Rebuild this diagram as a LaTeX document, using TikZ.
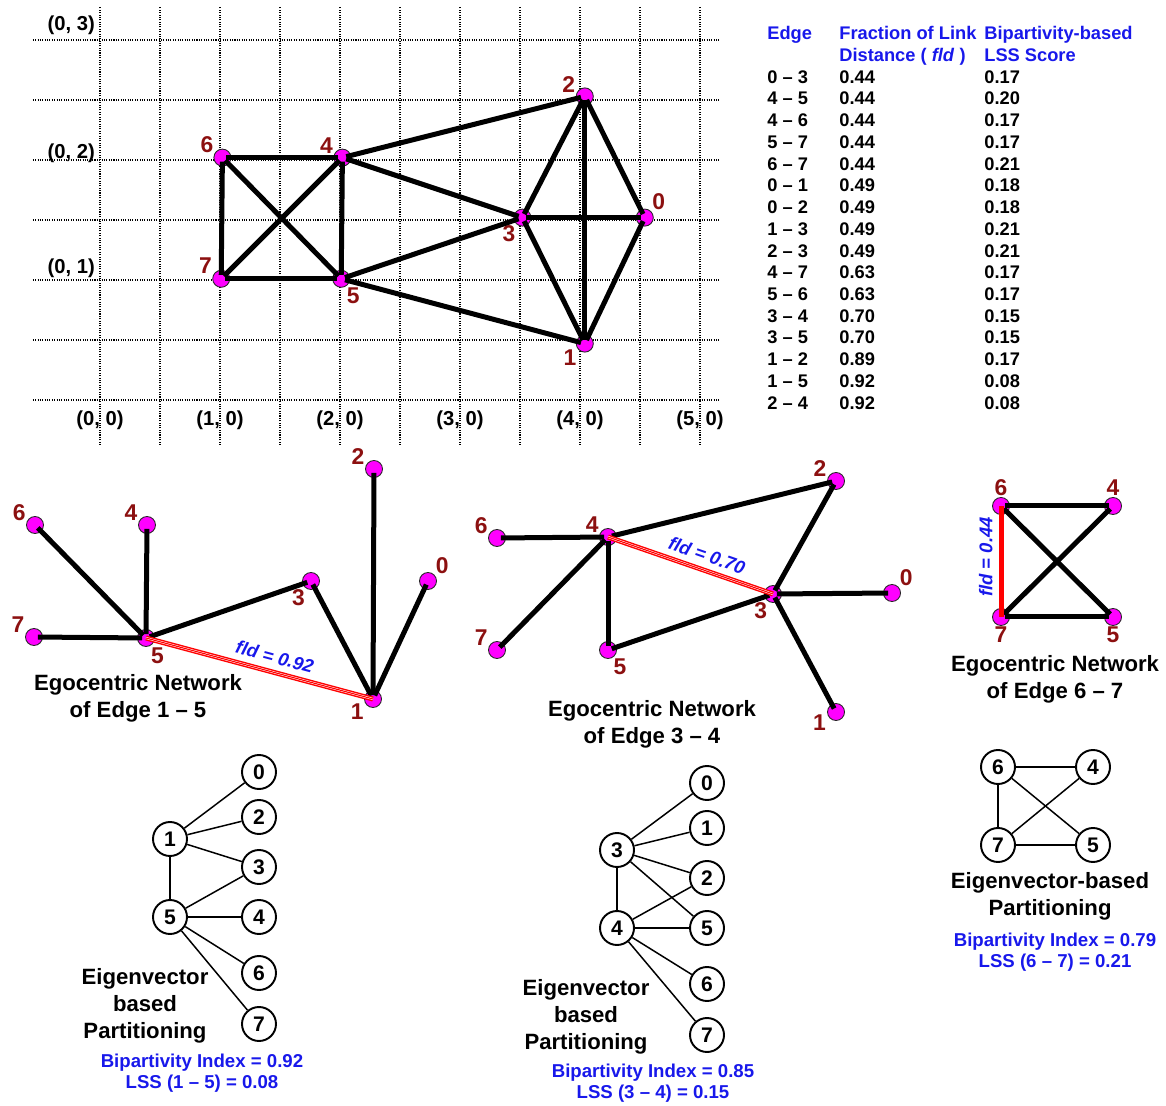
\documentclass[tikz,border=0pt]{standalone}
\usepackage{fontspec}
\setmainfont{Liberation Sans}

\definecolor{vtxred}{RGB}{140,16,16}
\definecolor{vtxfill}{RGB}{255,0,255}
\definecolor{lssblue}{RGB}{24,24,235}
\definecolor{fldred}{RGB}{255,0,0}

\tikzset{
  gridline/.style={line width=0.6pt,dash pattern=on 0.6pt off 0.75pt},
  gridlabel/.style={font=\fontsize{11.5}{12}\selectfont\bfseries,inner sep=0pt},
  vtx/.style={circle,fill=vtxfill,draw=black!85,line width=0.5pt,minimum size=3.4mm,inner sep=0pt,label distance=0.4mm},
  vlabel/.style={text=vtxred,font=\fontsize{13}{13}\selectfont\bfseries,inner sep=0.5pt},
  link/.style={line width=1mm,shorten <=-1mm,shorten >=-1mm},
  fldlink/.style={draw=fldred,line width=1mm,postaction={draw=white,line width=0.42mm},postaction={draw=fldred,line width=0.22mm}},
  fldtext/.style={text=lssblue,font=\fontsize{10.5}{12}\selectfont\bfseries\itshape,sloped,above},
  part/.style={circle,draw,line width=1.1pt,minimum size=6.8mm,inner sep=0pt,font=\fontsize{12}{12}\selectfont\bfseries},
  plink/.style={line width=0.85pt},
  caption/.style={align=center,font=\fontsize{12.6}{15.3}\selectfont\bfseries},
  score/.style={align=center,text=lssblue,font=\fontsize{10.6}{12.2}\selectfont\bfseries},
  tabtext/.style={anchor=base west,inner sep=0pt,font=\fontsize{10.4}{12}\selectfont\bfseries},
}

\begin{document}
\begin{tikzpicture}[x=0.2mm,y=-0.2mm]
  \useasboundingbox (0,0) rectangle (1166,1106);

  % grid with the whole network
  \begin{scope}[shift={(100,400)},x=24mm,y=24mm]
    \foreach \gx in {0,0.5,...,5}
      \draw[gridline] (\gx,-0.375) -- (\gx,3.28);
    \foreach \gy in {0,0.5,...,3}
      \draw[gridline] (-0.56,\gy) -- (5.17,\gy);
    \foreach \gx in {0,...,5}
      \node[gridlabel] (xlab\gx) at (\gx,-0.17) {(\gx, 0)};
    \node[gridlabel,anchor=east] (ylab3) at (-0.04,3.12) {(0, 3)};
    \node[gridlabel,anchor=east] (ylab2) at (-0.04,2.06) {(0, 2)};
    \node[gridlabel,anchor=east] (ylab1) at (-0.04,1.1) {(0, 1)};

    \node[vtx,label={[vlabel]45:0}] (g0) at (4.54,1.52) {};
    \node[vtx,label={[vlabel]215:1}] (g1) at (4.04,0.47) {};
    \node[vtx,label={[vlabel]160:2}] (g2) at (4.04,2.53) {};
    \node[vtx,label={[vlabel]230:3}] (g3) at (3.52,1.52) {};
    \node[vtx,label={[vlabel]158:4}] (g4) at (2.02,2.02) {};
    \node[vtx,label={[vlabel]300:5}] (g5) at (2.01,1.01) {};
    \node[vtx,label={[vlabel]153:6}] (g6) at (1.02,2.02) {};
    \node[vtx,label={[vlabel]155:7}] (g7) at (1.01,1.01) {};
    \foreach \a/\b in {6/4,6/7,6/5,4/7,4/5,7/5,4/2,4/3,5/3,5/1,3/2,3/0,3/1,2/0,2/1,0/1}
      \draw[link] (g\a) -- (g\b);
  \end{scope}

  % table of scores
  \node[tabtext,text=lssblue] (hedge) at (767,39.5) {Edge};
  \node[tabtext,text=lssblue] (hfld) at (839,39.5) {Fraction of Link};
  \node[tabtext,text=lssblue] (hfld2) at (839,61.5) {Distance ( \textit{fld} )};
  \node[tabtext,text=lssblue] (hlss) at (984,39.5) {Bipartivity-based};
  \node[tabtext,text=lssblue] (hlss2) at (984,61.5) {LSS Score};
  \foreach \e/\f/\s [count=\r] in {0 – 3/0.44/0.17, 4 – 5/0.44/0.20, 4 – 6/0.44/0.17,
      5 – 7/0.44/0.17, 6 – 7/0.44/0.21, 0 – 1/0.49/0.18, 0 – 2/0.49/0.18, 1 – 3/0.49/0.21,
      2 – 3/0.49/0.21, 4 – 7/0.63/0.17, 5 – 6/0.63/0.17, 3 – 4/0.70/0.15, 3 – 5/0.70/0.15,
      1 – 2/0.89/0.17, 1 – 5/0.92/0.08, 2 – 4/0.92/0.08}
  {
    \node[tabtext] (edge\r) at (767,{61.5+21.73*\r}) {\e};
    \node[tabtext] (fld\r) at (839,{61.5+21.73*\r}) {\f};
    \node[tabtext] (lss\r) at (984,{61.5+21.73*\r}) {\s};
  }

  % egocentric network of edge 1-5
  \node[vtx,label={[vlabel]43:0}] (ea0) at (428,581) {};
  \node[vtx,label={[vlabel]205:1}] (ea1) at (373,699) {};
  \node[vtx,label={[vlabel]160:2}] (ea2) at (374,469) {};
  \node[vtx,label={[vlabel]237:3}] (ea3) at (311,581) {};
  \node[vtx,label={[vlabel]160:4}] (ea4) at (147,525) {};
  \node[vtx,label={[vlabel]295:5}] (ea5) at (146,638) {};
  \node[vtx,label={[vlabel]158:6}] (ea6) at (35,525) {};
  \node[vtx,label={[vlabel]160:7}] (ea7) at (34,637) {};
  \foreach \a/\b in {6/5,4/5,7/5,5/3,3/1,2/1,0/1}
    \draw[link] (ea\a) -- (ea\b);
  \draw[fldlink] (ea5.center) -- (ea1.center) node[fldtext,pos=0.55] {fld = 0.92};
  \node[caption] (capa) at (138,698) {Egocentric Network\\of Edge 1 – 5};

  % egocentric network of edge 3-4
  \node[vtx,label={[vlabel]41:0}] (eb0) at (892,593) {};
  \node[vtx,label={[vlabel]189:1}] (eb1) at (836,712) {};
  \node[vtx,label={[vlabel]159:2}] (eb2) at (836,481) {};
  \node[vtx,label={[vlabel]239:3}] (eb3) at (773,594) {};
  \node[vtx,label={[vlabel]156:4}] (eb4) at (608,537) {};
  \node[vtx,label={[vlabel]299:5}] (eb5) at (608,650) {};
  \node[vtx,label={[vlabel]157:6}] (eb6) at (497,538) {};
  \node[vtx,label={[vlabel]157:7}] (eb7) at (497,650) {};
  \foreach \a/\b in {4/2,2/3,6/4,4/7,4/5,5/3,3/0,3/1}
    \draw[link] (eb\a) -- (eb\b);
  \draw[fldlink] (eb4.center) -- (eb3.center) node[fldtext,pos=0.57] {fld = 0.70};
  \node[caption] (capb) at (652,724) {Egocentric Network\\of Edge 3 – 4};

  % egocentric network of edge 6-7
  \node[vtx,label={[vlabel]above:4}] (ec4) at (1113,506) {};
  \node[vtx,label={[vlabel]below:5}] (ec5) at (1113,617) {};
  \node[vtx,label={[vlabel]above:6}] (ec6) at (1001,506) {};
  \node[vtx,label={[vlabel]below:7}] (ec7) at (1001,617) {};
  \foreach \a/\b in {6/4,6/5,4/7,7/5}
    \draw[link] (ec\a) -- (ec\b);
  \draw[fldlink] (ec7.center) -- (ec6.center) node[fldtext,pos=0.54] {fld = 0.44};
  \node[caption] (capc) at (1055,679) {Egocentric Network\\of Edge 6 – 7};

  % partition of edge 1-5
  \node[part] (pa0) at (259,772) {0};
  \node[part] (pa2) at (259,817) {2};
  \node[part] (pa1) at (170,839) {1};
  \node[part] (pa3) at (259,867) {3};
  \node[part] (pa5) at (170,917) {5};
  \node[part] (pa4) at (259,917) {4};
  \node[part] (pa6) at (259,973) {6};
  \node[part] (pa7) at (259,1024) {7};
  \foreach \a/\b in {1/0,1/2,1/3,1/5,5/3,5/4,5/6,5/7}
    \draw[plink] (pa\a) -- (pa\b);
  \node[caption] (parta) at (145,1006) {Eigenvector\\based\\Partitioning};
  \node[score] (scorea) at (202,1073) {Bipartivity Index = 0.92\\LSS (1 – 5) = 0.08};

  % partition of edge 3-4
  \node[part] (pb0) at (707,783) {0};
  \node[part] (pb1) at (707,828) {1};
  \node[part] (pb3) at (617,850) {3};
  \node[part] (pb2) at (707,878) {2};
  \node[part] (pb5) at (707,928) {5};
  \node[part] (pb4) at (617,928) {4};
  \node[part] (pb6) at (707,984) {6};
  \node[part] (pb7) at (707,1035) {7};
  \foreach \a/\b in {3/0,3/1,3/2,3/5,3/4,4/2,4/5,4/6,4/7}
    \draw[plink] (pb\a) -- (pb\b);
  \node[caption] (partb) at (586,1017) {Eigenvector\\based\\Partitioning};
  \node[score] (scoreb) at (653,1083) {Bipartivity Index = 0.85\\LSS (3 – 4) = 0.15};

  % partition of edge 6-7
  \node[part] (pc6) at (998,767) {6};
  \node[part] (pc4) at (1093,767) {4};
  \node[part] (pc7) at (998,845) {7};
  \node[part] (pc5) at (1093,845) {5};
  \foreach \a/\b in {6/4,6/5,4/7,6/7,7/5}
    \draw[plink] (pc\a) -- (pc\b);
  \node[caption] (partc) at (1050,896) {Eigenvector-based\\Partitioning};
  \node[score] (scorec) at (1055,952) {Bipartivity Index = 0.79\\LSS (6 – 7) = 0.21};
\end{tikzpicture}
\end{document}
